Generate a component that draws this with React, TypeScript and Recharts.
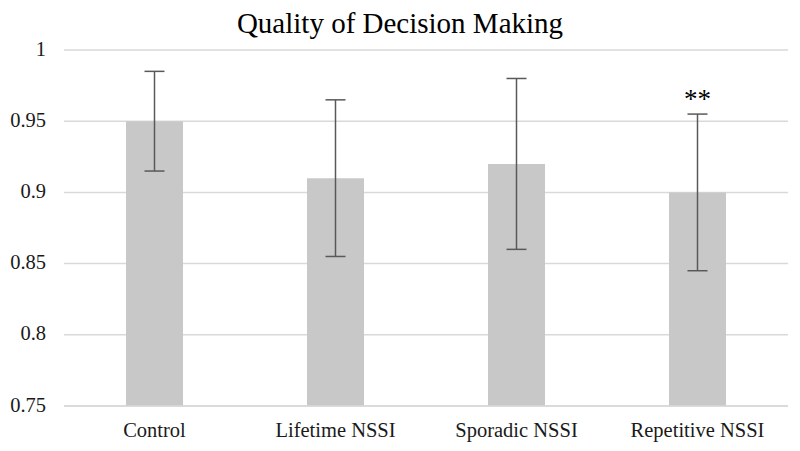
import React from "react";
import {
  ComposedChart,
  Bar,
  XAxis,
  YAxis,
  CartesianGrid,
  ErrorBar,
  ReferenceDot,
  Label,
} from "recharts";

const categories = ["Control", "Lifetime NSSI", "Sporadic NSSI", "Repetitive NSSI"];
const means = [0.95, 0.91, 0.92, 0.9];
const errors = [0.035, 0.055, 0.06, 0.055];
const yTicks = [0.75, 0.8, 0.85, 0.9, 0.95, 1];
const sigIndex = 3;
const sigLabel = "**";

const data = categories.map((name, i) => ({ name, mean: means[i], err: errors[i] }));

const FONT = "Liberation Serif";

const XTick = (props: any) => {
  const { x, y, payload } = props;
  return (
    <text x={x} y={y + 31} textAnchor="middle" fontFamily={FONT} fontSize={20.5} fill="#1a1a1a">
      {payload.value}
    </text>
  );
};

const YTick = (props: any) => {
  const { x, y, payload } = props;
  return (
    <text x={x - 18} y={y + 5.5} textAnchor="end" fontFamily={FONT} fontSize={20.5} fill="#1a1a1a">
      {String(payload.value)}
    </text>
  );
};

export default function App() {
  return (
    <div
      style={{
        position: "absolute",
        left: 0,
        top: 0,
        width: 800,
        height: 451,
        background: "#fff",
        fontFamily: FONT,
      }}
    >
      <div
        style={{
          position: "absolute",
          top: 9,
          left: 0,
          width: 800,
          textAlign: "center",
          fontFamily: FONT,
          fontSize: 29,
          lineHeight: "29px",
          color: "#000",
        }}
      >
        Quality of Decision Making
      </div>
      <ComposedChart
        width={800}
        height={451}
        data={data}
        margin={{ top: 50, right: 12, bottom: 0, left: 0 }}
        barCategoryGap="34%"
      >
        <CartesianGrid vertical={false} stroke="#d9d9d9" strokeWidth={1.5} />
        <XAxis
          dataKey="name"
          height={45}
          tickLine={false}
          tickSize={0}
          tickMargin={0}
          axisLine={{ stroke: "#d9d9d9", strokeWidth: 1.5 }}
          tick={<XTick />}
        />
        <YAxis
          width={64}
          domain={[0.75, 1]}
          ticks={yTicks}
          allowDataOverflow
          tickLine={false}
          axisLine={false}
          tickSize={0}
          tickMargin={0}
          tick={<YTick />}
        />
        <Bar dataKey="mean" fill="#c8c8c8" barSize={57} isAnimationActive={false}>
          <ErrorBar dataKey="err" width={10} stroke="#595959" strokeWidth={1.5} isAnimationActive={false} />
        </Bar>
        <ReferenceDot
          x={categories[sigIndex]}
          y={means[sigIndex] + errors[sigIndex]}
          r={0}
          fill="none"
          stroke="none"
        >
          <Label
            value={sigLabel}
            position="top"
            offset={6}
            fontFamily={FONT}
            fontSize={27}
            fill="#000"
          />
        </ReferenceDot>
      </ComposedChart>
    </div>
  );
}
